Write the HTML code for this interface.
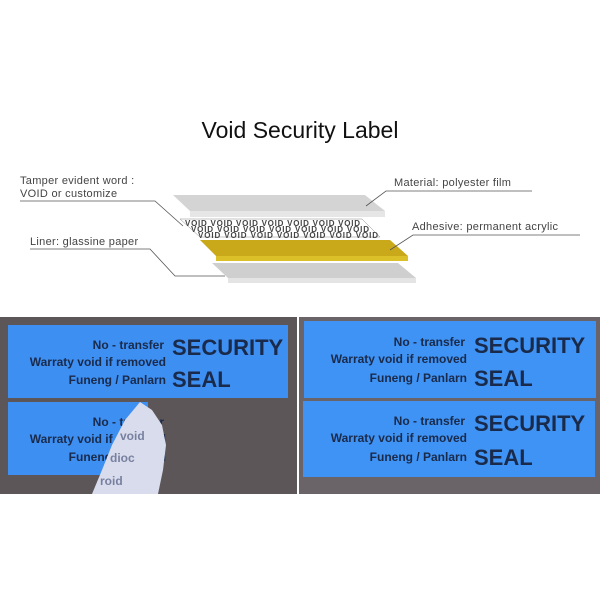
<!DOCTYPE html>
<html><head><style>
body{margin:0;width:600px;height:600px;background:#fff;overflow:hidden;font-family:"Liberation Sans",sans-serif}
</style></head><body>
<svg width="600" height="600" xmlns="http://www.w3.org/2000/svg" font-family="Liberation Sans, sans-serif">
<text x="300" y="138" font-size="23" text-anchor="middle" fill="#111">Void Security Label</text>
<!-- layers -->
<polygon points="173,195 365,195 385,211 190,211" fill="#d4d4d4"/>
<polygon points="190,211 385,211 385,217 190,217" fill="#e6e6e6"/>
<polygon points="180,219 362,219 380,237 200,237" fill="#fff" stroke="#888" stroke-width="0.5"/>
<g fill="#444" font-size="8" font-weight="bold">
<text x="185" y="226" textLength="175">VOID VOID VOID VOID VOID VOID VOID</text>
<text x="191" y="232" textLength="178">VOID VOID VOID VOID VOID VOID VOID</text>
<text x="198" y="238" textLength="180">VOID VOID VOID VOID VOID VOID VOID</text>
</g>
<polygon points="200,240 390,240 408,256 216,256" fill="#c9a81a"/>
<polygon points="216,256 408,256 408,261 216,261" fill="#dcc02a"/>
<polygon points="212,263 398,263 416,278 228,278" fill="#cfcfcf"/>
<polygon points="228,278 416,278 416,283 228,283" fill="#e4e4e4"/>
<!-- labels -->
<g font-size="11" fill="#444" letter-spacing="0.3">
<text x="20" y="184">Tamper evident word :</text>
<text x="20" y="197">VOID  or  customize</text>
<text x="394" y="186">Material: polyester film</text>
<text x="412" y="230">Adhesive: permanent acrylic</text>
<text x="30" y="245">Liner: glassine paper</text>
</g>
<g stroke="#555" stroke-width="0.8" fill="none">
<polyline points="20,201 155,201 183,226"/>
<polyline points="532,191 386,191 366,206"/>
<polyline points="580,235 413,235 390,250"/>
<polyline points="30,249 150,249 175,276 225,276"/>
</g>
<!-- left photo -->
<rect x="0" y="317" width="297" height="177" fill="#5d5659"/>
<rect x="8" y="325" width="280" height="73" fill="#3d8ff2"/>
<rect x="8" y="402" width="140" height="73" fill="#3d8ff2"/>
<g fill="#1a2a4a" font-weight="bold">
<text x="164" y="349" font-size="12" text-anchor="end">No - transfer</text>
<text x="166" y="366" font-size="12" text-anchor="end">Warraty void if removed</text>
<text x="166" y="384" font-size="12" text-anchor="end">Funeng  / Panlarn</text>
<text x="172" y="355" font-size="22">SECURITY</text>
<text x="172" y="387" font-size="22">SEAL</text>
<text x="164" y="426" font-size="12" text-anchor="end">No - transfer</text>
<text x="166" y="443" font-size="12" text-anchor="end">Warraty void if removed</text>
<text x="166" y="461" font-size="12" text-anchor="end">Funeng  / Panlarn</text>
</g>
<polygon points="140,402 152,410 162,425 166,445 163,470 158,494 92,494 102,470 112,445 125,420" fill="#d8dcec"/>
<g fill="#7880a0" font-size="12" font-weight="bold">
<text x="120" y="440">void</text><text x="110" y="462">dioc</text><text x="100" y="485">roid</text>
</g>
<!-- right photo -->
<rect x="299" y="317" width="301" height="177" fill="#6a6468"/>
<rect x="304" y="321" width="292" height="77" fill="#3f93f4"/>
<rect x="303" y="401" width="292" height="76" fill="#3f93f4"/>
<g fill="#1a2a4a" font-weight="bold">
<text x="465" y="346" font-size="12" text-anchor="end">No - transfer</text>
<text x="467" y="363" font-size="12" text-anchor="end">Warraty void if removed</text>
<text x="467" y="382" font-size="12" text-anchor="end">Funeng  / Panlarn</text>
<text x="474" y="353" font-size="22">SECURITY</text>
<text x="474" y="386" font-size="22">SEAL</text>
<text x="465" y="425" font-size="12" text-anchor="end">No - transfer</text>
<text x="467" y="442" font-size="12" text-anchor="end">Warraty void if removed</text>
<text x="467" y="461" font-size="12" text-anchor="end">Funeng  / Panlarn</text>
<text x="474" y="431" font-size="22">SECURITY</text>
<text x="474" y="465" font-size="22">SEAL</text>
</g>
</svg>
</body></html>
